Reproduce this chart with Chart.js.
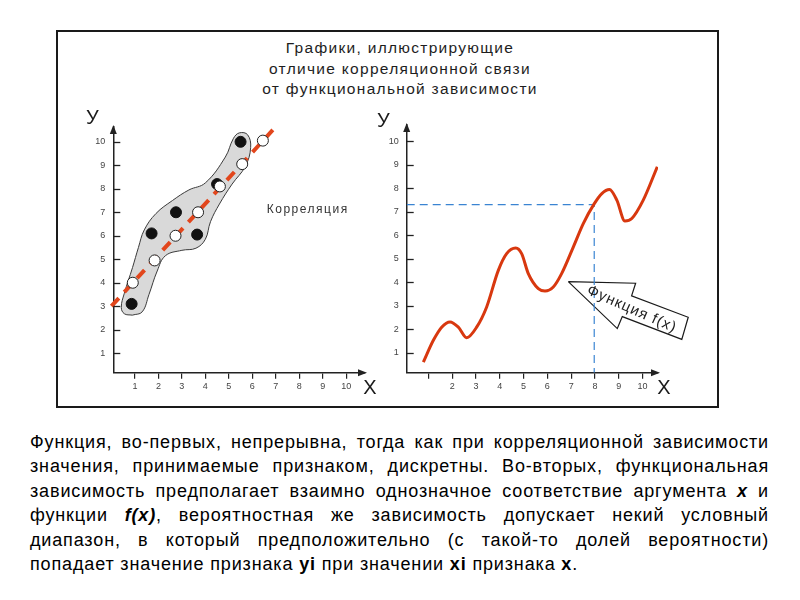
<!DOCTYPE html>
<html>
<head>
<meta charset="utf-8">
<script src="https://cdn.jsdelivr.net/npm/chart.js@4/dist/chart.umd.min.js"></script>
<style>
  html, body { margin:0; padding:0; background:#fff; }
  body { width:800px; height:600px; position:relative; overflow:hidden; font-family:'Liberation Sans', Arial, sans-serif; }
  #frame { position:absolute; left:56px; top:30px; width:659px; height:374px; border:2px solid #1a1a1a; }
  #title { position:absolute; left:0; top:38px; width:800px; text-align:center; font-size:15.5px; line-height:20.5px; letter-spacing:1.3px; color:#1e1e1e; }
  canvas { position:absolute; }
  #c1 { left:60px; top:100px; }
  #c2 { left:370px; top:100px; }
  #para { position:absolute; left:30px; top:430px; width:739px; font-size:18px; line-height:24.4px; letter-spacing:0.85px; color:#000; }
  #para div { text-align:justify; text-align-last:justify; white-space:normal; }
  #para div.last { text-align-last:left; }
</style>
</head>
<body>
<div id="frame"></div>
<div id="title">Графики, иллюстрирующие<br>отличие корреляционной связи<br>от функциональной зависимости</div>
<canvas id="c1" width="320" height="300"></canvas>
<canvas id="c2" width="330" height="300"></canvas>
<div id="para">
  <div>Функция, во-первых, непрерывна, тогда как при корреляционной зависимости</div>
  <div>значения, принимаемые признаком, дискретны. Во-вторых, функциональная</div>
  <div>зависимость предполагает взаимно однозначное соответствие аргумента <b><i>x</i></b> и</div>
  <div>функции <b><i>f(x)</i></b>, вероятностная же зависимость допускает некий условный</div>
  <div>диапазон, в который предположительно (с такой-то долей вероятности)</div>
  <div class="last">попадает значение признака <b>yi</b> при значении <b>xi</b> признака <b>x</b>.</div>
</div>
<script>
// ---------- data ----------
const tickValues = [1, 2, 3, 4, 5, 6, 7, 8, 9, 10];
const leftXTickLabels = ['1', '2', '3', '4', '5', '6', '7', '8', '9', '10'];
const leftYTickLabels = ['1', '2', '3', '4', '5', '6', '7', '8', '9', '10'];
const rightXTickLabels = ['', '2', '3', '4', '5', '6', '7', '8', '9', '10'];
const rightYTickLabels = ['1', '2', '3', '4', '5', '6', '7', '8', '9', '10'];

// correlation chart
const blackX = [0.86, 1.71, 2.75, 3.65, 4.5, 5.5];
const blackY = [3.1, 6.1, 7.0, 6.05, 8.2, 10.0];
const whiteX = [0.91, 1.84, 2.73, 3.69, 4.62, 5.57, 6.45];
const whiteY = [4.0, 4.95, 6.0, 7.0, 8.1, 9.05, 10.05];
const trendX = [0, 7.1];
const trendY = [3.0, 10.75];
const blobX = [0.89, 1.31, 1.6, 1.95, 2.3, 3.0, 3.6, 4.0, 4.22, 4.6, 5.14, 5.7, 5.93, 5.8, 5.45, 5.2, 4.85, 4.0, 3.3, 2.6, 1.9, 1.4, 1.15, 0.9, 0.55, 0.42, 0.55, 0.89];
const blobY = [2.62, 2.76, 3.5, 4.5, 5.15, 5.38, 5.47, 5.85, 6.6, 7.35, 8.2, 8.95, 9.75, 10.3, 10.38, 10.15, 9.35, 8.25, 7.95, 7.5, 6.95, 6.25, 5.5, 4.65, 3.55, 2.95, 2.68, 2.62];
const corrLabel = 'Корреляция';
const corrLabelPos = [8.36, 7.1];

// function chart
const curveX = [0.79, 1.21, 1.56, 1.91, 2.26, 2.61, 3.03, 3.45, 3.94, 4.29, 4.67, 4.92, 5.2, 5.62, 5.9, 6.25, 6.6, 7.09, 7.51, 7.96, 8.29, 8.61, 8.92, 9.26, 9.55, 10.03, 10.62];
const curveY = [0.60, 1.53, 2.09, 2.31, 2.09, 1.64, 2.09, 2.95, 4.51, 5.22, 5.46, 5.22, 4.37, 3.73, 3.63, 3.80, 4.37, 5.5, 6.5, 7.33, 7.78, 7.95, 7.5, 6.61, 6.72, 7.5, 8.92];
const guideX = [0.09, 7.97, 7.97];
const guideY = [7.31, 7.31, 0.15];
const arrowX = [6.88, 9.71, 9.54, 11.92, 11.65, 9.15, 8.94, 6.88];
const arrowY = [4.03, 3.96, 3.42, 2.51, 1.57, 2.54, 2.03, 4.03];
const funcLabel = 'Функция f(x)';
const funcLabelPos = [9.55, 2.85];

const zip = (xs, ys) => xs.map((x, i) => ({x, y: ys[i]}));

// ---------- plugin ----------
const decor = {
  id: 'decor',
  beforeDatasetDraw(chart, args, opts) {
    const fills = opts.fills || {};
    const color = fills[args.index];
    if (!color) return;
    const line = args.meta.dataset;
    const ctx = chart.ctx;
    line.updateControlPoints(chart.chartArea, 'x');
    ctx.save();
    ctx.beginPath();
    line.path(ctx);
    ctx.closePath();
    ctx.fillStyle = color;
    ctx.fill();
    ctx.restore();
  },
  afterDraw(chart, args, opts) {
    const {ctx, chartArea: a, scales} = chart;
    ctx.save();
    ctx.strokeStyle = '#222';
    ctx.lineWidth = 1.3;
    scales.y.ticks.forEach(t => {
      const py = Math.round(scales.y.getPixelForValue(t.value)) + 0.5;
      ctx.beginPath(); ctx.moveTo(a.left, py); ctx.lineTo(a.left + 7, py); ctx.stroke();
    });
    ctx.fillStyle = '#222';
    ctx.beginPath(); ctx.moveTo(a.right + 2, a.bottom); ctx.lineTo(a.right - 7, a.bottom - 3.5); ctx.lineTo(a.right - 7, a.bottom + 3.5); ctx.closePath(); ctx.fill();
    ctx.beginPath(); ctx.moveTo(a.left, a.top - 2); ctx.lineTo(a.left - 3.5, a.top + 7); ctx.lineTo(a.left + 3.5, a.top + 7); ctx.closePath(); ctx.fill();
    ctx.fillStyle = '#1a1a1a';
    ctx.font = '20px "Liberation Sans", Arial, sans-serif';
    ctx.textAlign = 'center'; ctx.textBaseline = 'middle';
    const yl = opts.yLetter, xl = opts.xLetter;
    ctx.fillText('У', a.left + yl[0], a.top + yl[1]);
    ctx.fillText('X', a.right + xl[0], a.bottom + xl[1]);
    (opts.texts || []).forEach(t => {
      const px = scales.x.getPixelForValue(t.pos[0]);
      const py = scales.y.getPixelForValue(t.pos[1]);
      ctx.save();
      ctx.translate(px, py);
      ctx.rotate((t.angle || 0) * Math.PI / 180);
      ctx.font = t.font;
      ctx.letterSpacing = t.spacing || '0px';
      ctx.fillStyle = t.color || '#222';
      ctx.textAlign = 'center'; ctx.textBaseline = 'middle';
      ctx.fillText(t.text, 0, 0);
      ctx.restore();
    });
    ctx.restore();
  }
};

function axes(xMin, xMax, yMin, yMax, xLabels, yLabels) {
  const tickFont = {family: '"Liberation Sans", Arial, sans-serif', size: 9};
  return {
    x: {
      type: 'linear', min: xMin, max: xMax,
      afterBuildTicks: s => { s.ticks = tickValues.map(v => ({value: v})); },
      afterFit: s => { s.height = 22; },
      ticks: {callback: (v, i) => xLabels[i], font: tickFont, color: '#444', padding: 2, maxRotation: 0, autoSkip: false},
      grid: {drawOnChartArea: false, drawTicks: true, tickLength: 6, color: '#222', lineWidth: 1.2},
      border: {display: true, color: '#222', width: 1.5}
    },
    y: {
      type: 'linear', min: yMin, max: yMax,
      afterBuildTicks: s => { s.ticks = tickValues.map(v => ({value: v})); },
      afterFit: s => { s.width = 30; },
      ticks: {callback: (v, i) => yLabels[i], font: tickFont, color: '#444', padding: 8, autoSkip: false},
      grid: {drawOnChartArea: false, drawTicks: false},
      border: {display: true, color: '#222', width: 1.5}
    }
  };
}

const common = {
  responsive: false, animation: false, devicePixelRatio: 1,
  events: [],
};

// ---------- left chart: correlation ----------
new Chart(document.getElementById('c1'), {
  type: 'scatter',
  data: {
    datasets: [
      {label: 'white', data: zip(whiteX, whiteY), pointRadius: 5.5, pointBackgroundColor: '#fff', pointBorderColor: '#222', pointBorderWidth: 1, order: 0},
      {label: 'black', data: zip(blackX, blackY), pointRadius: 5.5, pointBackgroundColor: '#111', pointBorderColor: '#111', pointBorderWidth: 1, order: 1},
      {type: 'line', label: 'trend', data: zip(trendX, trendY), borderColor: '#e2461c', borderWidth: 4, borderDash: [11, 8], pointRadius: 0, fill: false, tension: 0, clip: false, order: 2},
      {type: 'line', label: 'blob', data: zip(blobX, blobY), borderColor: '#3a3a3a', borderWidth: 1, pointRadius: 0, fill: false, tension: 0.4, order: 3}
    ]
  },
  options: Object.assign({}, common, {
    layout: {padding: {left: 23.3, top: 27, right: 15, bottom: 5.3}},
    scales: axes(0.08, 10.8, 0.17, 10.63, leftXTickLabels, leftYTickLabels),
    plugins: {
      legend: {display: false}, tooltip: {enabled: false},
      decor: {
        fills: {3: '#d9d9d9'},
        yLetter: [-21, -9], xLetter: [5, 16],
        texts: [{text: corrLabel, pos: corrLabelPos, font: '12px "Liberation Sans", Arial, sans-serif', spacing: '1.5px', color: '#333'}]
      }
    }
  }),
  plugins: [decor]
});

// ---------- right chart: function ----------
new Chart(document.getElementById('c2'), {
  type: 'scatter',
  data: {
    datasets: [
      {type: 'line', label: 'f(x)', data: zip(curveX, curveY), borderColor: '#d8380f', borderWidth: 3, pointRadius: 0, fill: false, cubicInterpolationMode: 'monotone', order: 0},
      {type: 'line', label: 'guide', data: zip(guideX, guideY), borderColor: '#3a84d2', borderWidth: 1.2, borderDash: [8, 5], pointRadius: 0, fill: false, tension: 0, order: 1},
      {type: 'line', label: 'arrow', data: zip(arrowX, arrowY), borderColor: '#1a1a1a', borderWidth: 1.2, pointRadius: 0, fill: false, tension: 0, clip: false, order: 2}
    ]
  },
  options: Object.assign({}, common, {
    layout: {padding: {left: 6.7, top: 25, right: 42, bottom: 5.3}},
    scales: axes(0.09, 10.65, 0.15, 10.7, rightXTickLabels, rightYTickLabels),
    plugins: {
      legend: {display: false}, tooltip: {enabled: false},
      decor: {
        fills: {2: '#ffffff'},
        yLetter: [-23.4, -3.3], xLetter: [6, 16],
        texts: [{text: funcLabel, pos: funcLabelPos, angle: 24, font: '15px "Liberation Sans", Arial, sans-serif', spacing: '1px', color: '#222'}]
      }
    }
  }),
  plugins: [decor]
});
</script>
</body>
</html>
